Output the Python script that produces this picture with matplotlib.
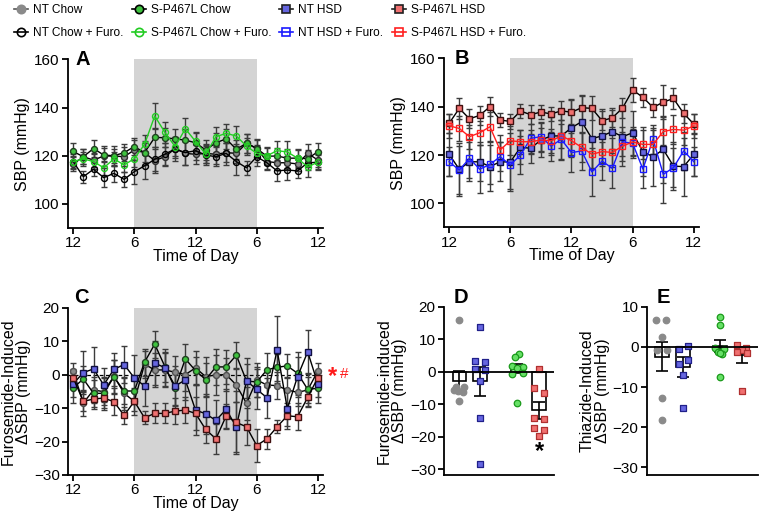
import matplotlib
matplotlib.use("Agg")
import matplotlib.pyplot as plt
import numpy as np
from matplotlib.lines import Line2D

plt.rcParams['font.family'] = ['Liberation Sans', 'DejaVu Sans']
plt.rcParams['font.size'] = 11

hours = list(range(25))  # hourly readings, noon to noon
tick_pos = [0, 6, 12, 18, 24]
tick_lab = ["12", "6", "12", "6", "12"]

# panel A: SBP, chow
a_nt_chow = [116.5, 119.6, 118.2, 119.9, 119.9, 119.6, 122.4, 121.3, 118.0, 119.6, 123.0, 121.0, 120.6,
             121.0, 120.6, 121.3, 121.0, 125.2, 123.1, 117.6, 117.1, 117.1, 116.6, 121.0, 118.2]
a_nt_chow_err = [3, 3, 3, 4, 4, 4, 4, 5, 5, 4, 4, 5, 4, 4, 4, 4, 4, 4, 4, 3, 3, 3, 3, 4, 3]
a_spl_chow = [121.8, 119.6, 123.0, 120.3, 120.0, 121.3, 123.8, 121.3, 127.6, 127.5, 127.0, 126.5, 125.4,
              122.4, 125.4, 127.0, 122.7, 125.2, 123.0, 119.8, 119.9, 119.0, 119.0, 118.8, 121.7]
a_spl_chow_err = [3.5, 3, 3.5, 3, 3, 3.5, 3.5, 4, 4, 4, 4, 4.5, 4, 4, 4, 4, 4, 4, 3.5, 3.5, 3.5, 4, 3.5, 3.5, 3.5]
a_nt_chow_furo = [117.6, 111.3, 114.4, 110.9, 112.7, 110.2, 113.4, 115.8, 118.5, 120.7, 122.8, 121.3, 122.1,
                  120.3, 119.6, 121.0, 117.6, 115.0, 119.6, 117.1, 113.7, 114.1, 113.7, 117.1, 117.3]
a_nt_chow_furo_err = [2.5, 2.5, 3, 4, 3.5, 3, 5, 5.5, 5, 4.5, 5, 5, 4, 4, 4, 5, 5.5, 3, 4, 3, 4, 4, 3, 3, 3]
a_spl_chow_furo = [117.6, 118.7, 117.6, 115.0, 118.7, 116.2, 118.8, 124.7, 136.5, 129.7, 123.8, 131.2, 126.0,
                   120.6, 127.9, 129.3, 128.2, 124.0, 121.0, 120.0, 122.1, 121.6, 119.0, 115.3, 117.4]
a_spl_chow_furo_err = [3, 3, 3, 3, 3, 3, 3.5, 4, 5.5, 4.5, 4, 4.5, 4, 3.5, 4, 4, 4, 3.5, 3.5, 3.5, 4, 4.5, 4, 4, 3.5]

# panel B: SBP, high-salt diet
b_nt_hsd = [120.3, 114.1, 117.2, 117.2, 115.2, 117.2, 117.1, 123.2, 122.8, 126.2, 127.9, 127.9, 131.3,
            133.8, 126.8, 127.9, 129.7, 127.6, 129.2, 121.4, 119.3, 122.3, 115.4, 115.2, 120.3]
b_nt_hsd_err = [9, 11, 8, 8, 10, 8, 12, 7, 6, 7, 8, 10, 12, 11, 12, 11, 9, 12, 9, 10, 12, 14, 10, 12, 9]
b_spl_hsd = [133.1, 139.3, 135.0, 136.4, 140.0, 134.5, 133.9, 138.2, 136.7, 137.8, 137.0, 138.3, 137.7,
             139.6, 139.3, 134.2, 135.4, 139.4, 146.9, 143.9, 139.7, 141.9, 143.4, 137.2, 132.8]
b_spl_hsd_err = [4, 4.5, 4, 4, 4, 3, 3, 3, 4, 3, 3, 4, 5, 5, 5, 4, 4, 4, 5, 4, 4, 7, 4.5, 4, 4]
b_nt_hsd_furo = [117.2, 113.8, 118.6, 114.1, 116.1, 119.3, 115.9, 120.0, 126.9, 127.6, 123.7, 126.5, 121.0,
                 121.7, 113.0, 117.5, 114.5, 125.5, 124.8, 114.2, 126.5, 112.0, 114.8, 121.7, 117.2]
b_nt_hsd_furo_err = [6, 10, 8, 10, 8, 6, 10, 8, 6, 6, 6, 8, 8, 8, 10, 8, 8, 6, 6, 8, 6, 12, 8, 8, 6]
b_spl_hsd_furo = [132.1, 131.0, 127.6, 129.2, 131.7, 122.1, 125.9, 125.5, 125.5, 126.2, 125.9, 127.9, 125.9,
                  123.2, 120.3, 121.4, 121.1, 123.7, 125.4, 124.4, 124.4, 129.7, 130.6, 130.3, 132.0]
b_spl_hsd_furo_err = [5, 5, 5, 5, 6, 6, 6, 5, 5, 5, 5, 5, 6, 6, 6, 6, 6, 6, 6, 6, 6, 6, 6, 6, 5]

# panel C: furosemide-induced change
c_nt_chow = [1.1, -8.5, -4.6, -5.1, -0.5, -5.6, -8.0, 3.1, 1.4, 1.4, 0.7, 0.0, 2.0,
             -0.6, -0.1, 0.0, -3.1, -8.6, -1.6, -3.1, -3.3, -4.6, -5.3, -4.6, 1.1]
c_nt_chow_err = [2.5, 4, 4, 4, 5, 5, 4, 4, 5, 5, 5, 5, 5, 6, 6, 5, 5, 5, 5, 4, 4, 4, 4, 4, 2.5]
c_spl_chow = [-4.0, -1.3, -5.6, -5.6, -0.7, -4.9, -4.9, 3.7, 9.1, 2.4, -4.1, 4.7, 1.2,
              -1.5, 2.3, 2.3, 5.8, -1.9, -2.2, 1.4, 2.2, 2.6, 0.4, -4.4, -4.1]
c_spl_chow_err = [4.5, 4, 4, 5, 5, 4, 4, 4, 4, 4.5, 5, 4.5, 4, 5, 5.5, 5, 4, 5, 4.5, 5, 4, 3.5, 6.5, 5, 4.5]
c_nt_hsd = [-2.8, 0.6, 1.7, -3.1, 1.6, 3.0, -1.0, -3.4, 3.4, 2.1, -3.4, -1.6, -10.6,
            -11.7, -13.7, -10.4, -15.6, -1.9, -4.4, -6.9, 7.4, -10.2, -0.6, 6.8, -2.8]
c_nt_hsd_err = [4, 6.5, 6.5, 5, 5, 5.5, 7, 6, 6.5, 5.5, 6, 6, 7.5, 6, 6, 6, 7.5, 7, 6, 6, 10, 6, 6, 6.5, 4]
c_spl_hsd = [-0.9, -8.0, -7.3, -7.0, -8.1, -12.2, -8.0, -12.9, -11.6, -11.6, -10.9, -10.6, -11.6,
             -16.4, -19.2, -12.4, -14.3, -15.6, -21.2, -19.2, -15.6, -12.3, -12.6, -6.8, -0.9]
c_spl_hsd_err = [2.5, 3, 3, 3, 4, 2.5, 3, 2, 3, 3, 4, 4, 5, 4, 4.5, 3.5, 9.5, 5.5, 5, 3, 2, 3, 4, 3, 2]

# panel D: furosemide-induced change per animal
d_nt_chow = [15.8, -4.8, -4.6, -5.5, -6.3, -9.0, -5.9]
d_nt_hsd = [13.9, 3.4, 2.9, 0.7, 0.5, -2.7, -14.1, -28.4]
d_spl_chow = [5.5, 4.4, 1.8, 1.5, 1.0, -0.8, -0.5, -9.7]
d_spl_hsd = [0.8, -5.0, -6.4, -14.3, -14.5, -17.2, -17.8, -19.8]
d_mean = [-2.9, -3.0, 1.0, -11.8]
d_sem = [3.0, 4.5, 1.5, 2.6]

# panel E: thiazide-induced change per animal
e_nt_chow = [6.7, 6.7, 2.5, -0.9, -0.9, -12.8, -18.2]
e_nt_hsd = [-0.6, 0.2, -3.3, -4.3, -6.9, -15.1]
e_spl_chow = [7.5, 5.4, -0.3, -0.6, -1.2, -1.8, -1.5, -7.4]
e_spl_hsd = [0.5, -0.3, -0.8, -1.2, -1.5, -11.0]
e_mean = [-2.4, -5.0, 0.1, -2.0]
e_sem = [3.7, 2.4, 1.5, 2.0]

# legend entries, one column per group
leg_labels = [["NT Chow", "NT Chow + Furo."], ["S-P467L Chow", "S-P467L Chow + Furo."],
              ["NT HSD", "NT HSD + Furo."], ["S-P467L HSD", "S-P467L HSD + Furo."]]

# styles
GRAY, GREEN, BLUE, RED = "#8a8a8a", "#3fc23f", "#6666e0", "#f07070"
ERRC = "#3c3c3c"
LAB = 11.5

fig = plt.figure(figsize=(7.6, 5.14), dpi=100)


def style_ax(ax):
    for s in ("top", "right"):
        ax.spines[s].set_visible(False)
    for s in ("left", "bottom"):
        ax.spines[s].set_linewidth(1.3)
    ax.tick_params(width=1.3, length=4, labelsize=11, pad=2)


def time_series(ax, y, err, marker, face, edge, line):
    ax.errorbar(hours, y, yerr=err, fmt="none", ecolor=ERRC, elinewidth=1.0, capsize=2.5,
                capthick=1.0, zorder=2)
    ax.plot(hours, y, color=line, lw=1.0, marker=marker, ms=4.3, mfc=face, mec=edge,
            mew=1.0, zorder=3)


def time_axes(ax, ylim, yticks):
    ax.axvspan(6, 18, color="#d4d4d4", lw=0, zorder=0)
    ax.set_xlim(-0.5, 24.5)
    ax.set_ylim(*ylim)
    ax.set_xticks(tick_pos)
    ax.set_xticklabels(tick_lab)
    ax.set_yticks(yticks)
    ax.set_xlabel("Time of Day", labelpad=-1, fontsize=LAB)
    style_ax(ax)


axA = fig.add_axes([0.0895, 0.5564, 0.3355, 0.328])
time_axes(axA, (90, 160), [100, 120, 140, 160])
time_series(axA, a_nt_chow, a_nt_chow_err, "o", GRAY, "#303030", "black")
time_series(axA, a_nt_chow_furo, a_nt_chow_furo_err, "o", "none", "black", "black")
time_series(axA, a_spl_chow, a_spl_chow_err, "o", GREEN, "#204020", "black")
time_series(axA, a_spl_chow_furo, a_spl_chow_furo_err, "o", "none", "#22cc22", "#22cc22")
axA.set_ylabel("SBP (mmHg)", labelpad=3, fontsize=LAB)
axA.text(0.028, 1.0, "A", transform=axA.transAxes, fontsize=14.5, fontweight="bold", va="center")

axB = fig.add_axes([0.5842, 0.5574, 0.3355, 0.329])
time_axes(axB, (90, 160), [100, 120, 140, 160])
time_series(axB, b_nt_hsd, b_nt_hsd_err, "s", BLUE, "#101040", "black")
time_series(axB, b_spl_hsd, b_spl_hsd_err, "s", RED, "#401010", "black")
time_series(axB, b_nt_hsd_furo, b_nt_hsd_furo_err, "s", "none", "#1a1aff", "#1a1aff")
time_series(axB, b_spl_hsd_furo, b_spl_hsd_furo_err, "s", "none", "#ff2020", "#ff2020")
axB.set_ylabel("SBP (mmHg)", labelpad=3, fontsize=LAB)
axB.text(0.04, 1.0, "B", transform=axB.transAxes, fontsize=14.5, fontweight="bold", va="center")

axC = fig.add_axes([0.0895, 0.0759, 0.3355, 0.3255])
time_axes(axC, (-30, 20), [-30, -20, -10, 0, 10, 20])
axC.axhline(0, color="black", lw=0.9, ls=(0, (3, 2)), zorder=1)
time_series(axC, c_nt_chow, c_nt_chow_err, "o", GRAY, "#505050", "black")
time_series(axC, c_spl_chow, c_spl_chow_err, "o", GREEN, "#204020", "black")
time_series(axC, c_nt_hsd, c_nt_hsd_err, "s", BLUE, "#101040", "black")
time_series(axC, c_spl_hsd, c_spl_hsd_err, "s", RED, "#401010", "black")
axC.set_ylabel("Furosemide-Induced\n\u0394SBP (mmHg)", labelpad=2, linespacing=1.05, fontsize=LAB)
axC.text(0.024, 1.06, "C", transform=axC.transAxes, fontsize=14.5, fontweight="bold", va="center")
axC.text(1.02, 0.59, "*", transform=axC.transAxes, color="#ff1a1a", fontsize=17, fontweight="bold",
         va="center")
axC.text(1.065, 0.605, "#", transform=axC.transAxes, color="#ff1a1a", fontsize=11, va="center")


def dot_panel(ax, groups, offsets, pos, means, sems, markers, faces, edges):
    ax.bar(pos, means, width=0.64, color="white", edgecolor="black", lw=1.2, zorder=2)
    ax.errorbar(pos, means, yerr=sems, fmt="none", ecolor="black", elinewidth=1.2, capsize=4,
                capthick=1.2, zorder=3)
    for vals, offs, p, m, f, e in zip(groups, offsets, pos, markers, faces, edges):
        ax.scatter(np.array(offs) + p, vals, marker=m, s=22, c=f, edgecolors=e, linewidths=0.9,
                   zorder=4)
    ax.axhline(0, color="black", lw=1.3, zorder=5)
    ax.set_xticks([])
    style_ax(ax)


axD = fig.add_axes([0.5842, 0.0759, 0.1447, 0.3274])
d_pos = [0, 1, 2.8, 3.85]
d_offsets = [[0, -0.16, 0.22, -0.26, 0.16, 0, -0.05],
             [0, -0.24, 0.26, -0.24, 0.26, 0, 0, 0],
             [0.1, -0.1, -0.27, 0.27, 0, -0.27, 0.27, 0],
             [0, -0.24, 0.24, -0.24, 0.24, -0.24, 0.24, 0]]
dot_panel(axD, [d_nt_chow, d_nt_hsd, d_spl_chow, d_spl_hsd], d_offsets, d_pos, d_mean, d_sem,
          ["o", "s", "o", "s"], [GRAY, BLUE, "#66e066", RED], [GRAY, "#20208a", "#1a9a1a", "#b03030"])
axD.set_xlim(-0.74, 4.57)
axD.set_ylim(-31.75, 20)
axD.set_yticks([-30, -20, -10, 0, 10, 20])
axD.set_ylabel("Furosemide-induced\n\u0394SBP (mmHg)", labelpad=2, linespacing=1.05, fontsize=LAB)
axD.text(0.09, 1.055, "D", transform=axD.transAxes, fontsize=14.5, fontweight="bold", va="center")
axD.text(d_pos[3], -24.5, "*", ha="center", va="center", fontsize=17, fontweight="bold")

axE = fig.add_axes([0.851, 0.0759, 0.146, 0.3274])
e_pos = [0, 1, 2.7, 3.7]
e_offsets = [[-0.26, 0.2, 0, -0.2, 0.23, 0, 0],
             [-0.2, 0.23, 0.23, -0.2, 0, 0],
             [0, 0, -0.23, 0.2, -0.1, 0.1, 0, 0],
             [-0.2, 0.2, 0, -0.2, 0.25, 0]]
dot_panel(axE, [e_nt_chow, e_nt_hsd, e_spl_chow, e_spl_hsd], e_offsets, e_pos, e_mean, e_sem,
          ["o", "s", "o", "s"], [GRAY, BLUE, "#66e066", RED], [GRAY, "#20208a", "#1a9a1a", "#b03030"])
axE.set_xlim(-0.69, 4.45)
axE.set_ylim(-31.9, 10)
axE.set_yticks([-30, -20, -10, 0, 10])
axE.set_ylabel("Thiazide-Induced\n\u0394SBP (mmHg)", labelpad=2, linespacing=1.05, fontsize=LAB)
axE.text(0.09, 1.055, "E", transform=axE.transAxes, fontsize=14.5, fontweight="bold", va="center")


# legend: one small legend per column so the columns sit where the original has them
def h(marker, face, edge, line):
    return Line2D([], [], color=line, lw=1.2, marker=marker, ms=6, mfc=face, mec=edge, mew=1.2)


leg_handles = [[h("o", GRAY, GRAY, "#555555"), h("o", "none", "black", "black")],
               [h("o", GREEN, "black", "black"), h("o", "none", "#22cc22", "#22cc22")],
               [h("s", BLUE, "#202020", "#202020"), h("s", "none", "#1a1aff", "#1a1aff")],
               [h("s", RED, "#202020", "#202020"), h("s", "none", "#ff2020", "#ff2020")]]
leg_x = [14, 132, 279, 392]  # pixel x of each column's handle start
for hs, ls, x in zip(leg_handles, leg_labels, leg_x):
    fig.legend(hs, ls, loc="upper left", bbox_to_anchor=(x / 760, 1 - 4 / 514), frameon=False,
               borderpad=0, borderaxespad=0, handlelength=1.2, handletextpad=0.4,
               labelspacing=0.9, fontsize=8.6)

fig.savefig("out.png", dpi=100)
